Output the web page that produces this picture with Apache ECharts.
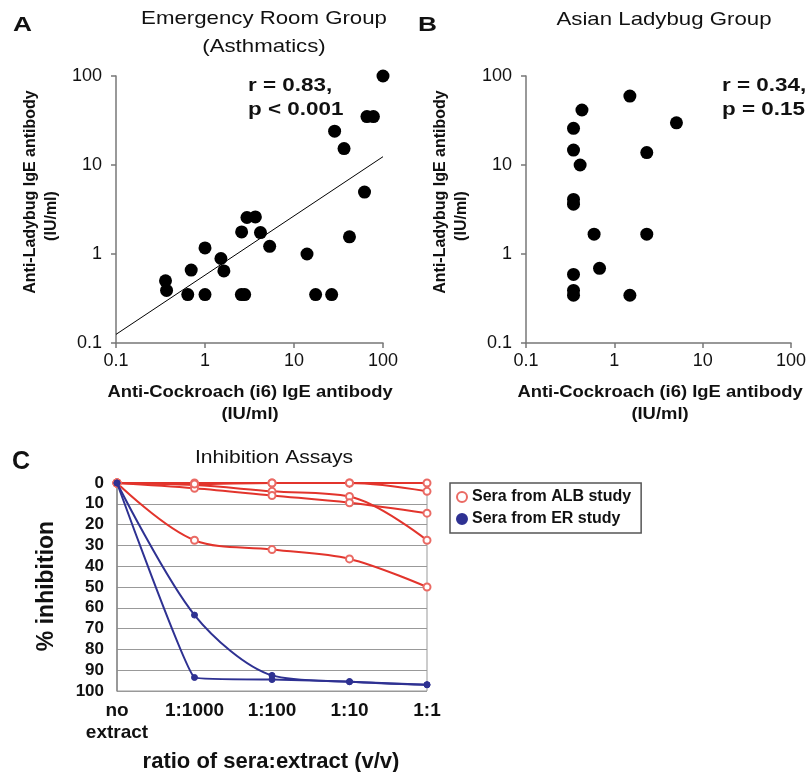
<!DOCTYPE html>
<html><head><meta charset="utf-8">
<script src="https://cdn.jsdelivr.net/npm/echarts@6/dist/echarts.min.js"></script>
<style>html,body{margin:0;padding:0;background:#fff}#c{width:809px;height:772px}</style>
</head><body><div id="c"></div>
<script>
// Panel A: Emergency Room Group (x = anti-cockroach IgE, y = anti-ladybug IgE)
const erCockroach = [100, 66, 78, 28.6, 36.5, 62, 42, 14, 17.5, 26.5, 2.96, 3.68, 2.58, 4.2, 5.33, 1.0, 1.51, 1.63, 0.70, 0.36, 0.37, 0.64, 1.0, 2.56, 2.79];
const erLadybug   = [100, 35, 35, 24, 15.3, 4.96, 1.56, 1.0, 0.35, 0.35, 2.57, 2.61, 1.77, 1.74, 1.22, 1.17, 0.89, 0.645, 0.66, 0.50, 0.39, 0.35, 0.35, 0.35, 0.35];
const erFitX = [0.1, 100];
const erFitY = [0.125, 12.4];
// Panel B: Asian Ladybug Group
const albCockroach = [1.5, 0.43, 5.05, 0.345, 0.345, 2.33, 0.41, 0.345, 0.345, 0.59, 2.33, 0.68, 0.345, 0.345, 0.345, 1.5];
const albLadybug   = [59.5, 41.5, 29.8, 25.8, 14.7, 13.8, 10, 4.1, 3.63, 1.67, 1.67, 0.69, 0.59, 0.39, 0.344, 0.344];
const logTickLabels = ['0.1', '1', '10', '100'];
// Panel C: Inhibition assays
const ratioCategories = ['no\nextract', '1:1000', '1:100', '1:10', '1:1'];
const albSera1 = [0, 0, 0, 0, 0];
const albSera2 = [0, 1, 4, 6.5, 27.5];
const albSera3 = [0, 2.5, 6, 9.5, 14.5];
const albSera4 = [0, 0.5, 0, 0, 4];
const albSera5 = [0, 27.5, 32, 36.5, 50];
const erSera1 = [0, 63.5, 92.5, 95.5, 97];
const erSera2 = [0, 93.5, 94.5, 95.5, 97];

const RED = '#e2342c', BLUE = '#2e3192', AXIS = '#777';
const FONT = 'Liberation Sans, Arial, sans-serif';

function pairs(xs, ys) { return xs.map((x, i) => [x, ys[i]]); }

const chart = echarts.init(document.getElementById('c'));

function logAxis(gridIndex, isX) {
  return {
    type: 'log', logBase: 10, min: 0.1, max: 100, gridIndex,
    axisLine: { show: true, lineStyle: { color: AXIS, width: 1.5 } },
    axisTick: { show: true, length: 5, lineStyle: { color: AXIS, width: 1.5 } },
    splitLine: { show: false }, minorTick: { show: false },
    axisLabel: {
      color: '#111', fontSize: 18, fontFamily: FONT, margin: isX ? 9 : 14,
      formatter: v => { const s = String(+v.toPrecision(3)); return logTickLabels.includes(s) ? s : ''; }
    }
  };
}

const lineBase = (name, data, color, symbol, smooth) => ({
  name, type: 'line', xAxisIndex: 2, yAxisIndex: 2, data,
  smooth, symbol, symbolSize: symbol === 'circle' ? 6 : 7, showSymbol: true,
  lineStyle: { color, width: 2 },
  itemStyle: { color: symbol === 'circle' ? color : '#ea6a64', borderColor: symbol === 'circle' ? color : '#ea6a64', borderWidth: 1 },
  emphasis: { disabled: true }, z: color === BLUE ? 4 : 3
});

const T = (x, y, text, size, weight, align, extra) => Object.assign({
  type: 'text', x, y, silent: true,
  style: { text, font: `${weight} ${size}px ${FONT}`, fill: '#111', textAlign: align || 'center', textVerticalAlign: 'middle' }
}, extra || {});
const SX = (s) => ({ scaleX: s });

chart.setOption({
  animation: false,
  backgroundColor: '#fff',
  grid: [
    { left: 116, top: 76, width: 267, height: 267 },
    { left: 526, top: 76, width: 266, height: 267 },
    { left: 117, top: 483, width: 310, height: 208, show: true, borderColor: '#999', borderWidth: 1 }
  ],
  xAxis: [
    logAxis(0, true), logAxis(1, true),
    {
      type: 'category', gridIndex: 2, data: ratioCategories, boundaryGap: false,
      axisLine: { lineStyle: { color: '#888', width: 1.5 } },
      axisTick: { show: true, length: 5, alignWithLabel: true, lineStyle: { color: '#888' } },
      splitLine: { show: false },
      axisLabel: { color: '#111', fontSize: 19, fontWeight: 'bold', fontFamily: FONT, margin: 9, lineHeight: 22, interval: 0 }
    }
  ],
  yAxis: [
    logAxis(0, false), logAxis(1, false),
    {
      type: 'value', gridIndex: 2, min: 0, max: 100, interval: 10, inverse: true,
      axisLine: { show: true, lineStyle: { color: '#888', width: 1.5 } },
      axisTick: { show: false },
      splitLine: { show: true, lineStyle: { color: '#999', width: 1.2 } },
      axisLabel: { color: '#111', fontSize: 17, fontWeight: 'bold', fontFamily: FONT, margin: 13 }
    }
  ],
  legend: {
    left: 450, top: 483, orient: 'vertical', itemGap: 6, itemWidth: 10, itemHeight: 10,
    padding: [6, 10, 6, 6], borderColor: '#555', borderWidth: 1.5, backgroundColor: '#fff',
    textStyle: { fontSize: 16, fontWeight: 'bold', color: '#111', fontFamily: FONT },
    data: [
      { name: 'Sera from ALB study', icon: 'emptyCircle' },
      { name: 'Sera from ER study', icon: 'circle' }
    ]
  },
  series: [
    { type: 'scatter', xAxisIndex: 0, yAxisIndex: 0, data: pairs(erCockroach, erLadybug), symbolSize: 13, itemStyle: { color: '#000', opacity: 1 } },
    { type: 'line', xAxisIndex: 0, yAxisIndex: 0, data: pairs(erFitX, erFitY), symbol: 'none', lineStyle: { color: '#000', width: 1 }, z: 1 },
    { type: 'scatter', xAxisIndex: 1, yAxisIndex: 1, data: pairs(albCockroach, albLadybug), symbolSize: 13, itemStyle: { color: '#000', opacity: 1 } },
    lineBase('Sera from ALB study', albSera1, RED, 'emptyCircle', 0.35),
    lineBase('Sera from ALB study', albSera2, RED, 'emptyCircle', 0.35),
    lineBase('Sera from ALB study', albSera3, RED, 'emptyCircle', 0.35),
    lineBase('Sera from ALB study', albSera4, RED, 'emptyCircle', 0.35),
    lineBase('Sera from ALB study', albSera5, RED, 'emptyCircle', 0.35),
    lineBase('Sera from ER study', erSera1, BLUE, 'circle', 0.3),
    lineBase('Sera from ER study', erSera2, BLUE, 'circle', 0.08)
  ],
  graphic: [
    T(13, 25, 'A', 21, 'bold', 'left', SX(1.25)),
    T(264, 19, 'Emergency Room Group', 19, 'normal', 'center', SX(1.17)),
    T(264, 47, '(Asthmatics)', 19, 'normal', 'center', SX(1.17)),
    T(248, 86, 'r = 0.83,', 19, 'bold', 'left', SX(1.18)),
    T(248, 110, 'p < 0.001', 19, 'bold', 'left', SX(1.18)),
    T(31, 192, 'Anti-Ladybug IgE antibody', 16, 'bold', 'center', { rotation: Math.PI / 2 }),
    T(52, 216, '(IU/ml)', 16, 'bold', 'center', { rotation: Math.PI / 2 }),
    T(250, 393, 'Anti-Cockroach (i6) IgE antibody', 16, 'bold', 'center', SX(1.15)),
    T(250, 415, '(IU/ml)', 16, 'bold', 'center', SX(1.15)),

    T(418, 25, 'B', 21, 'bold', 'left', SX(1.25)),
    T(664, 20, 'Asian Ladybug Group', 19, 'normal', 'center', SX(1.17)),
    T(722, 86, 'r = 0.34,', 19, 'bold', 'left', SX(1.18)),
    T(722, 110, 'p = 0.15', 19, 'bold', 'left', SX(1.18)),
    T(441, 192, 'Anti-Ladybug IgE antibody', 16, 'bold', 'center', { rotation: Math.PI / 2 }),
    T(462, 216, '(IU/ml)', 16, 'bold', 'center', { rotation: Math.PI / 2 }),
    T(660, 393, 'Anti-Cockroach (i6) IgE antibody', 16, 'bold', 'center', SX(1.15)),
    T(660, 415, '(IU/ml)', 16, 'bold', 'center', SX(1.15)),

    T(12, 462, 'C', 25, 'bold', 'left'),
    T(274, 458, 'Inhibition Assays', 18, 'normal', 'center', SX(1.17)),
    T(47, 586, '% inhibition', 23, 'bold', 'center', { rotation: Math.PI / 2 }),
    T(271, 762, 'ratio of sera:extract (v/v)', 22, 'bold')
  ]
});
</script></body></html>
